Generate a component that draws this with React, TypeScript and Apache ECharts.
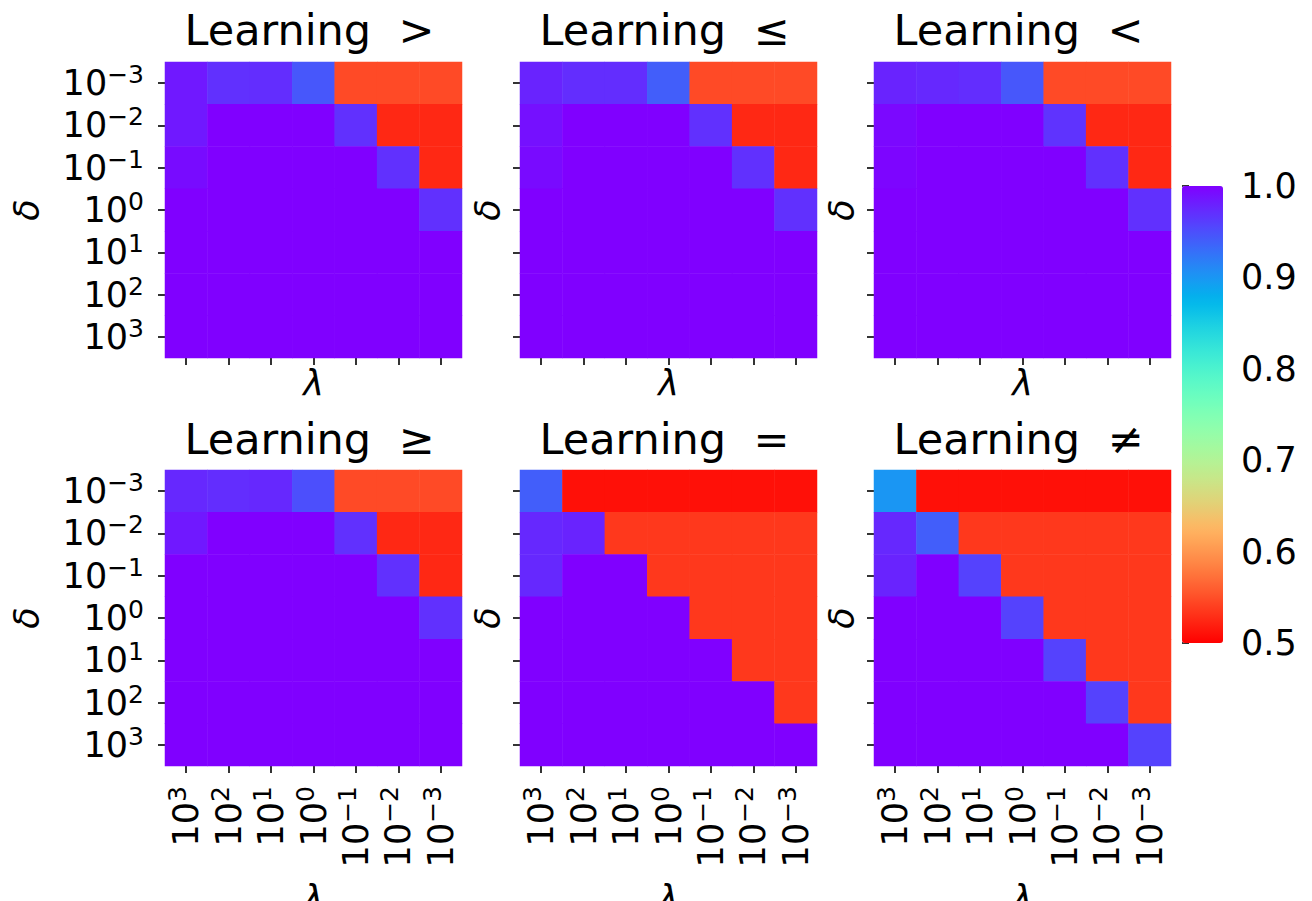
import React, { useEffect, useRef } from 'react';
import * as echarts from 'echarts';

// Tick exponents (λ decreasing left→right, δ increasing top→bottom)
const lambdaExps = ['3', '2', '1', '0', '−1', '−2', '−3'];
const deltaExps = ['−3', '−2', '−1', '0', '1', '2', '3'];
const relations = ['>', '≤', '<', '≥', '=', '≠'];
const colorbarTicks = [0.5, 0.6, 0.7, 0.8, 0.9, 1.0];

// rows: δ = 1e-3 .. 1e3, cols: λ = 1e3 .. 1e-3
const gtValues = [
  [0.985, 0.97, 0.972, 0.945, 0.547, 0.547, 0.547],
  [0.985, 1, 1, 1, 0.97, 0.525, 0.525],
  [0.993, 1, 1, 1, 1, 0.97, 0.525],
  [1, 1, 1, 1, 1, 1, 0.97],
  [1, 1, 1, 1, 1, 1, 1],
  [1, 1, 1, 1, 1, 1, 1],
  [1, 1, 1, 1, 1, 1, 1],
];
const leValues = [
  [0.978, 0.972, 0.972, 0.94, 0.547, 0.547, 0.547],
  [0.99, 1, 1, 1, 0.97, 0.525, 0.525],
  [0.994, 1, 1, 1, 1, 0.97, 0.525],
  [1, 1, 1, 1, 1, 1, 0.97],
  [1, 1, 1, 1, 1, 1, 1],
  [1, 1, 1, 1, 1, 1, 1],
  [1, 1, 1, 1, 1, 1, 1],
];
const ltValues = [
  [0.978, 0.975, 0.972, 0.945, 0.547, 0.547, 0.547],
  [0.995, 1, 1, 1, 0.968, 0.525, 0.525],
  [0.997, 1, 1, 1, 1, 0.97, 0.525],
  [1, 1, 1, 1, 1, 1, 0.97],
  [1, 1, 1, 1, 1, 1, 1],
  [1, 1, 1, 1, 1, 1, 1],
  [1, 1, 1, 1, 1, 1, 1],
];
const geValues = [
  [0.975, 0.972, 0.975, 0.95, 0.547, 0.547, 0.547],
  [0.985, 1, 1, 1, 0.97, 0.525, 0.525],
  [1, 1, 1, 1, 1, 0.97, 0.525],
  [1, 1, 1, 1, 1, 1, 0.97],
  [1, 1, 1, 1, 1, 1, 1],
  [1, 1, 1, 1, 1, 1, 1],
  [1, 1, 1, 1, 1, 1, 1],
];
const eqValues = [
  [0.94, 0.51, 0.51, 0.51, 0.51, 0.51, 0.51],
  [0.975, 0.978, 0.535, 0.535, 0.535, 0.535, 0.535],
  [0.975, 1, 1, 0.535, 0.535, 0.535, 0.535],
  [1, 1, 1, 1, 0.535, 0.535, 0.535],
  [1, 1, 1, 1, 1, 0.535, 0.535],
  [1, 1, 1, 1, 1, 1, 0.535],
  [1, 1, 1, 1, 1, 1, 1],
];
const neValues = [
  [0.9, 0.51, 0.51, 0.51, 0.51, 0.51, 0.51],
  [0.975, 0.94, 0.535, 0.535, 0.535, 0.535, 0.535],
  [0.978, 1, 0.958, 0.535, 0.535, 0.535, 0.535],
  [1, 1, 1, 0.958, 0.535, 0.535, 0.535],
  [1, 1, 1, 1, 0.958, 0.535, 0.535],
  [1, 1, 1, 1, 1, 0.958, 0.535],
  [1, 1, 1, 1, 1, 1, 0.958],
];
const panels = [gtValues, leValues, ltValues, geValues, eqValues, neValues];

const FONT = 'DejaVu Sans';
const TICK_FS = 35;
const TITLE_FS = 43;

// matplotlib "rainbow" colormap, reversed so that 1.0 is purple and 0.5 is red
function rainbowColor(v: number): string {
  const t = (1 - v) / 0.5;
  const clip = (x: number) => Math.max(0, Math.min(1, x));
  const r = clip(Math.abs(2 * t - 0.5));
  const g = clip(Math.sin(Math.PI * t));
  const b = clip(Math.cos((Math.PI / 2) * t));
  const h = (x: number) => Math.round(x * 255).toString(16).padStart(2, '0');
  return '#' + h(r) + h(g) + h(b);
}

export default function App() {
  const ref = useRef<HTMLDivElement>(null);

  useEffect(() => {
    if (!ref.current) return;
    const chart = echarts.init(ref.current, null, { renderer: 'svg' });

    const lefts = [165, 520, 874];
    const tops = [62, 470];
    const W = 297;
    const H = 296;

    const rich = {
      b: { fontSize: TICK_FS, fontFamily: FONT, color: '#000' },
      s: { fontSize: 25, fontFamily: FONT, color: '#000', padding: [0, 0, 17, 0] },
    };
    const pow = (v: string) => `{b|10}{s|${v}}`;

    const grids: any[] = [];
    const xAxes: any[] = [];
    const yAxes: any[] = [];
    const series: any[] = [];
    const titles: any[] = [];

    panels.forEach((mat, i) => {
      const row = Math.floor(i / 3);
      const col = i % 3;
      const left = lefts[col];
      const top = tops[row];
      grids.push({ left, top, width: W, height: H, containLabel: false, outerBoundsMode: 'none' });
      const tickStyle = { show: true, length: 7, alignWithLabel: true, lineStyle: { color: '#000', width: 1.6 } };
      xAxes.push({
        type: 'category',
        gridIndex: i,
        data: lambdaExps,
        position: 'bottom',
        axisLine: { show: false },
        axisTick: tickStyle,
        splitLine: { show: false },
        axisLabel: {
          show: row === 1,
          rotate: 90,
          margin: 20,
          formatter: pow,
          rich,
          interval: 0,
        },
        name: 'λ',
        nameLocation: 'middle',
        nameGap: row === 1 ? 114 : 7,
        nameTextStyle: { fontSize: TICK_FS, fontFamily: FONT, fontStyle: 'italic', color: '#000' },
      });
      yAxes.push({
        type: 'category',
        gridIndex: i,
        data: deltaExps,
        inverse: true,
        axisLine: { show: false },
        axisTick: tickStyle,
        splitLine: { show: false },
        axisLabel: {
          show: col === 0,
          margin: 21,
          formatter: pow,
          rich,
          interval: 0,
        },
        name: 'δ',
        nameLocation: 'middle',
        nameGap: col === 0 ? 121 : 15,
        nameTextStyle: { fontSize: TICK_FS, fontFamily: FONT, fontStyle: 'italic', color: '#000' },
      });
      const data: number[][] = [];
      mat.forEach((r, ri) => r.forEach((v, ci) => data.push([ci, ri, v])));
      series.push({
        type: 'heatmap',
        xAxisIndex: i,
        yAxisIndex: i,
        data,
        itemStyle: { borderWidth: 0 },
        emphasis: { disabled: true },
      });
      titles.push({
        text: 'Learning  ' + relations[i],
        left: left + W / 2 - 4,
        textAlign: 'center',
        top: row === 0 ? 8 : 417,
        padding: 0,
        textStyle: { fontSize: TITLE_FS, fontWeight: 'normal', fontFamily: FONT, color: '#000' },
      });
    });

    // colorbar axis
    grids.push({ left: 1182, top: 186, width: 41, height: 457, outerBoundsMode: 'none' });
    xAxes.push({ type: 'value', gridIndex: 6, show: false });
    yAxes.push({
      type: 'value',
      gridIndex: 6,
      position: 'right',
      min: colorbarTicks[0],
      max: colorbarTicks[colorbarTicks.length - 1],
      interval: 0.1,
      axisLine: { show: false },
      axisTick: { show: true, length: 7, lineStyle: { color: '#000', width: 1.6 } },
      splitLine: { show: false },
      axisLabel: {
        margin: 18,
        fontSize: TICK_FS,
        fontFamily: FONT,
        color: '#000',
        formatter: (v: number) => v.toFixed(1),
      },
    });
    series.push({ type: 'line', xAxisIndex: 6, yAxisIndex: 6, data: [], silent: true });

    const stops: string[] = [];
    for (let k = 0; k <= 50; k++) stops.push(rainbowColor(0.5 + (0.5 * k) / 50));

    chart.setOption({
      animation: false,
      backgroundColor: '#fff',
      textStyle: { fontFamily: FONT },
      title: titles,
      grid: grids,
      xAxis: xAxes,
      yAxis: yAxes,
      visualMap: {
        type: 'continuous',
        min: 0.5,
        max: 1.0,
        seriesIndex: [0, 1, 2, 3, 4, 5],
        inRange: { color: stops },
        left: 1182,
        top: 186,
        itemWidth: 41,
        itemHeight: 457,
        padding: 0,
        calculable: false,
        hoverLink: false,
        text: null,
        showLabel: false,
      },
      series,
    });

    return () => chart.dispose();
  }, []);

  return (
    <div
      ref={ref}
      style={{ position: 'fixed', left: 0, top: 0, width: 1312, height: 901 }}
    />
  );
}
